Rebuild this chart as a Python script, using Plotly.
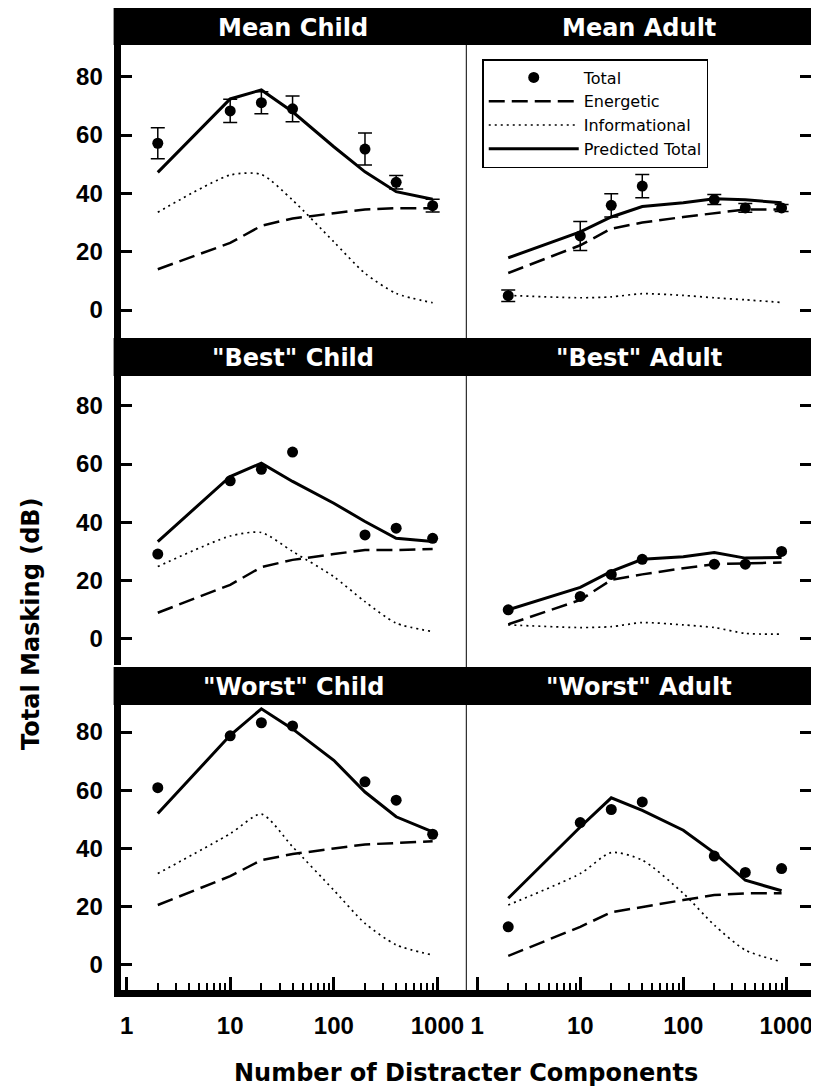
import plotly.graph_objects as go

# ---------------- data ----------------
x_pts = [2, 10, 20, 40, 200, 400, 900]
x_line = [2, 10, 20, 40, 100, 200, 400, 900]

panel_titles = ["Mean Child", "Mean Adult", "\"Best\" Child", "\"Best\" Adult",
                "\"Worst\" Child", "\"Worst\" Adult"]

mc_total = [57.2, 68.3, 71.1, 69.0, 55.2, 43.8, 35.8]
mc_err = [5.3, 4.0, 3.8, 4.4, 5.5, 2.3, 2.2]
mc_pred = [47.2, 72.4, 75.5, 68.0, 56.0, 47.4, 40.6, 38.0]
mc_energ = [14.0, 23.0, 28.9, 31.4, 33.2, 34.5, 34.9, 34.9]
mc_info = [33.5, 46.3, 46.5, 37.7, 23.4, 12.6, 5.7, 2.5]

ma_total = [4.9, 25.4, 35.9, 42.5, 37.9, 35.0, 35.0]
ma_err = [2.0, 5.0, 4.0, 4.0, 1.7, 1.5, 1.2]
ma_pred = [17.9, 26.8, 31.9, 35.5, 36.8, 38.2, 37.8, 36.8]
ma_energ = [12.7, 22.2, 27.9, 30.0, 31.9, 33.3, 34.5, 34.5]
ma_info = [5.0, 4.2, 4.5, 5.6, 5.0, 4.2, 3.5, 2.6]

bc_total = [29.0, 54.2, 58.2, 64.1, 35.6, 37.9, 34.4]
bc_pred = [33.3, 55.7, 60.3, 54.0, 46.5, 40.2, 34.4, 33.3]
bc_energ = [8.8, 18.4, 24.5, 27.0, 29.0, 30.4, 30.4, 30.7]
bc_info = [24.7, 35.2, 36.4, 29.9, 21.2, 12.6, 5.2, 2.3]

ba_total = [9.8, 14.4, 22.0, 27.2, 25.5, 25.5, 29.9]
ba_pred = [9.8, 17.5, 23.0, 27.2, 28.1, 29.5, 27.6, 27.8]
ba_energ = [4.8, 13.2, 20.1, 22.0, 24.1, 25.5, 25.8, 26.1]
ba_info = [4.6, 3.7, 4.0, 5.4, 4.6, 3.7, 1.7, 1.4]

wc_total = [60.9, 78.7, 83.2, 82.1, 62.9, 56.6, 44.9]
wc_pred = [52.0, 78.9, 88.0, 81.1, 70.3, 59.4, 50.9, 45.7]
wc_energ = [20.6, 30.5, 36.0, 38.1, 40.0, 41.4, 41.9, 42.5]
wc_info = [31.4, 45.1, 51.8, 40.6, 25.7, 14.3, 6.9, 3.4]

wa_total = [13.1, 48.9, 53.4, 56.0, 37.4, 31.8, 33.1]
wa_pred = [22.9, 47.4, 57.4, 53.1, 46.3, 38.5, 29.1, 25.5]
wa_energ = [3.1, 13.1, 18.1, 20.0, 22.3, 24.0, 24.6, 24.6]
wa_info = [20.6, 31.4, 38.6, 36.0, 24.6, 13.7, 5.1, 1.1]

y_ticks = [0, 20, 40, 60, 80]
x_major = [1, 10, 100, 1000]
x_major_text = ["1", "10", "100", "1000"]
x_minor = [m * d for d in (1, 10, 100) for m in range(2, 10)]

panels = [
    (mc_total, mc_err, mc_pred, mc_energ, mc_info),
    (ma_total, ma_err, ma_pred, ma_energ, ma_info),
    (bc_total, None, bc_pred, bc_energ, bc_info),
    (ba_total, None, ba_pred, ba_energ, ba_info),
    (wc_total, None, wc_pred, wc_energ, wc_info),
    (wa_total, None, wa_pred, wa_energ, wa_info),
]

# ---------------- geometry (page pixels; the html body has an 8px margin) ----------------
OFF = 8
W, H = 819 - OFF, 1092 - OFF
fx = lambda p: (p - OFF) / W
fy = lambda p: 1 - (p - OFF) / H
rows = [(45, 338), (376, 665), (705, 990)]
row_yrange = [(-9.6, 90.9), (-9.2, 90.3), (-8.6, 89.3)]
cols = [(120, 467), (467, 813)]
col_xrange = [(-0.058, 3.279), (-0.106, 3.24)]
headers = [(8, 45), (338, 376), (667, 705)]

BOLD = dict(family="Liberation Sans", weight="bold", color="black")
TFONT = dict(family="DejaVu Sans", weight="bold")

fig = go.Figure()
layout = dict(width=W, height=H, margin=dict(l=0, r=0, t=0, b=0),
              paper_bgcolor="white", plot_bgcolor="white", showlegend=True)

for i, (tot, err, pred, energ, info) in enumerate(panels):
    r, c = divmod(i, 2)
    n = i + 1
    xa = "x" if n == 1 else f"x{n}"
    ya = "y" if n == 1 else f"y{n}"
    legend_panel = (i == 2)
    fig.add_trace(go.Scatter(x=x_line, y=energ, mode="lines", xaxis=xa, yaxis=ya,
                             name="Energetic", showlegend=legend_panel, legendrank=2,
                             line=dict(color="black", width=2.5, dash="16px,7px")))
    fig.add_trace(go.Scatter(x=x_line, y=info, mode="lines", xaxis=xa, yaxis=ya,
                             name="Informational", showlegend=legend_panel, legendrank=3,
                             line=dict(color="black", width=1.7, dash="2px,4px",
                                       shape="spline", smoothing=0.7)))
    fig.add_trace(go.Scatter(x=x_line, y=pred, mode="lines", xaxis=xa, yaxis=ya,
                             name="Predicted Total", showlegend=legend_panel, legendrank=4,
                             line=dict(color="black", width=3)))
    ekw = {}
    if err is not None:
        ekw["error_y"] = dict(type="data", array=err, visible=True, color="black",
                              thickness=1.5, width=7)
    fig.add_trace(go.Scatter(x=x_pts, y=tot, mode="markers", xaxis=xa, yaxis=ya,
                             name="Total", showlegend=legend_panel, legendrank=1,
                             marker=dict(color="black", size=11, symbol="circle"), **ekw))

    bottom = (r == 2)
    xd = dict(type="log", domain=[fx(cols[c][0]), fx(cols[c][1])],
              range=list(col_xrange[c]), anchor=ya, showgrid=False, zeroline=False,
              showline=bottom, linecolor="black", linewidth=7,
              ticks="inside" if bottom else "", ticklen=13, tickwidth=3,
              tickcolor="black", tickmode="array", tickvals=x_major,
              ticktext=x_major_text, showticklabels=bottom, ticklabelstandoff=8,
              tickfont=dict(size=24, **BOLD))
    if bottom:
        xd["minor"] = dict(tickmode="array", tickvals=x_minor, ticks="inside",
                           ticklen=7, tickwidth=1.5, tickcolor="black", showgrid=False)
    yd = dict(domain=[fy(rows[r][1]), fy(rows[r][0])], range=list(row_yrange[r]),
              anchor=xa, showgrid=False, zeroline=False, showline=True,
              linecolor="black", ticks="inside", tickcolor="black",
              tickmode="array", tickvals=y_ticks)
    if c == 0:
        yd.update(side="left", linewidth=7, ticklen=11, tickwidth=2.5,
                  showticklabels=True, ticklabelstandoff=6,
                  tickfont=dict(size=24, **BOLD))
    else:
        yd.update(side="right", linewidth=2, ticklen=11, tickwidth=2.5,
                  showticklabels=False)
    layout["xaxis" if n == 1 else f"xaxis{n}"] = xd
    layout["yaxis" if n == 1 else f"yaxis{n}"] = yd

shapes = []
annotations = []
for r, (t, b) in enumerate(headers):
    shapes.append(dict(type="rect", xref="paper", yref="paper", x0=fx(113), x1=fx(815),
                       y0=fy(b), y1=fy(t), fillcolor="black", line=dict(width=0), layer="above"))
    for c in range(2):
        annotations.append(dict(xref="paper", yref="paper",
                                x=fx((cols[c][0] + cols[c][1]) / 2), y=fy((t + b) / 2 + 1),
                                text=panel_titles[2 * r + c], showarrow=False,
                                xanchor="center", yanchor="middle",
                                font=dict(size=24, color="white", **TFONT)))
shapes.append(dict(type="line", xref="paper", yref="paper", x0=fx(467), x1=fx(467),
                   y0=fy(990), y1=fy(8), line=dict(color="black", width=1)))

annotations.append(dict(xref="paper", yref="paper", x=fx(30), y=fy(623),
                        text="Total Masking (dB)", showarrow=False, textangle=-90,
                        xanchor="center", yanchor="middle",
                        font=dict(size=24, color="black", **TFONT)))
annotations.append(dict(xref="paper", yref="paper", x=fx(467), y=fy(1073),
                        text="Number of Distracter Components", showarrow=False,
                        xanchor="center", yanchor="middle",
                        font=dict(size=24, color="black", **TFONT)))

layout["shapes"] = shapes
layout["annotations"] = annotations
layout["legend"] = dict(x=fx(483), y=fy(59), xanchor="left", yanchor="top",
                        bgcolor="white", bordercolor="black", borderwidth=1.5,
                        font=dict(family="DejaVu Sans", size=16, color="black"),
                        itemwidth=90, tracegroupgap=0)
fig.update_layout(**layout)
fig.write_html("out.html")
